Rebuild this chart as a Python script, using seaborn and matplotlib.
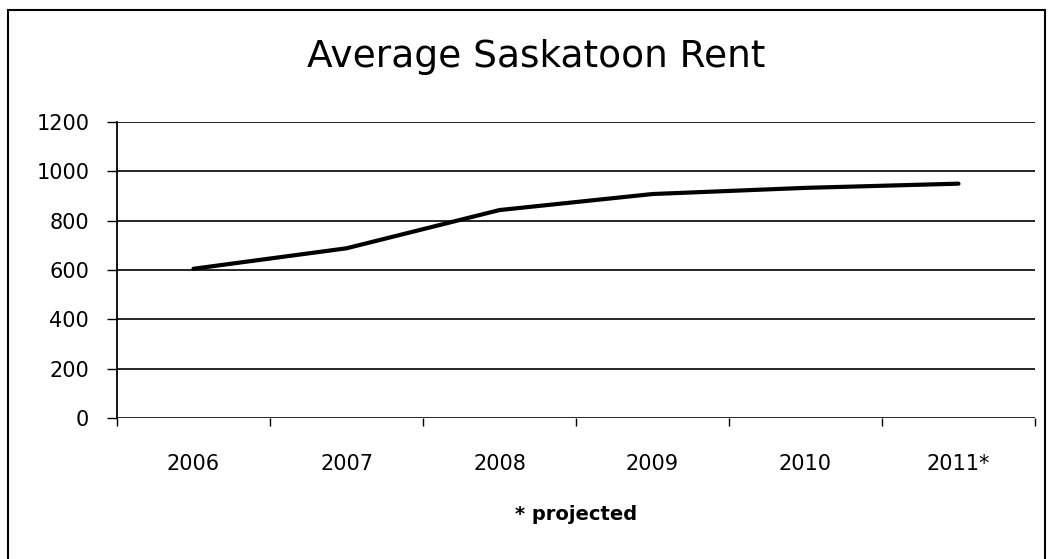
import matplotlib
matplotlib.use("Agg")
import matplotlib.pyplot as plt
from matplotlib.patches import Rectangle
from matplotlib.ticker import FixedLocator, NullFormatter
import seaborn as sns
import pandas as pd

years = ["2006", "2007", "2008", "2009", "2010", "2011*"]
rent = [605, 688, 843, 908, 933, 950]
y_ticks = [0, 200, 400, 600, 800, 1000, 1200]

sns.set_theme(style="white")
plt.rcParams["font.family"] = ["DejaVu Sans"]

df = pd.DataFrame({"pos": range(len(years)), "rent": rent})

fig = plt.figure(figsize=(10.51, 5.59), dpi=100)
ax = fig.add_axes([117 / 1051, 1 - 418 / 559, 918 / 1051, 296 / 559])

sns.lineplot(data=df, x="pos", y="rent", ax=ax, color="black", linewidth=3.0)

ax.set_xlim(-0.5, len(years) - 0.5)
ax.set_ylim(0, 1200)
ax.set_yticks(y_ticks)
ax.set_yticklabels([str(v) for v in y_ticks])
ax.set_xticks(range(len(years)))
ax.set_xticklabels(years)
ax.xaxis.set_minor_locator(FixedLocator([i - 0.5 for i in range(len(years) + 1)]))
ax.xaxis.set_minor_formatter(NullFormatter())

for v in y_ticks:
    ax.axhline(v, color="black", linewidth=1.2, zorder=1)

for side in ["top", "right", "bottom"]:
    ax.spines[side].set_visible(False)
ax.spines["left"].set_color("black")
ax.spines["left"].set_linewidth(1.3)

ax.tick_params(axis="y", which="major", direction="out", length=7, width=1,
               color="black", labelsize=15, pad=13, left=True)
ax.tick_params(axis="x", which="major", length=0, labelsize=15, pad=26)
ax.tick_params(axis="x", which="minor", direction="out", length=6, width=1,
               color="black", bottom=True)
for lab in ax.get_xticklabels() + ax.get_yticklabels():
    lab.set_color("black")

ax.set_xlabel("* projected", fontsize=14, fontweight="semibold", color="black",
              labelpad=22)
ax.set_ylabel("")

fig.text(536 / 1051, 1 - 67 / 559, "Average Saskatoon Rent", ha="center",
         va="baseline", fontsize=27, color="black")

# outer chart frame
fig.patches.append(Rectangle((8 / 1051, -0.05), 1037 / 1051, 1.05 - 10 / 559,
                             transform=fig.transFigure, fill=False,
                             edgecolor="black", linewidth=1.5))

fig.savefig("out.png", dpi=100, facecolor="white")
